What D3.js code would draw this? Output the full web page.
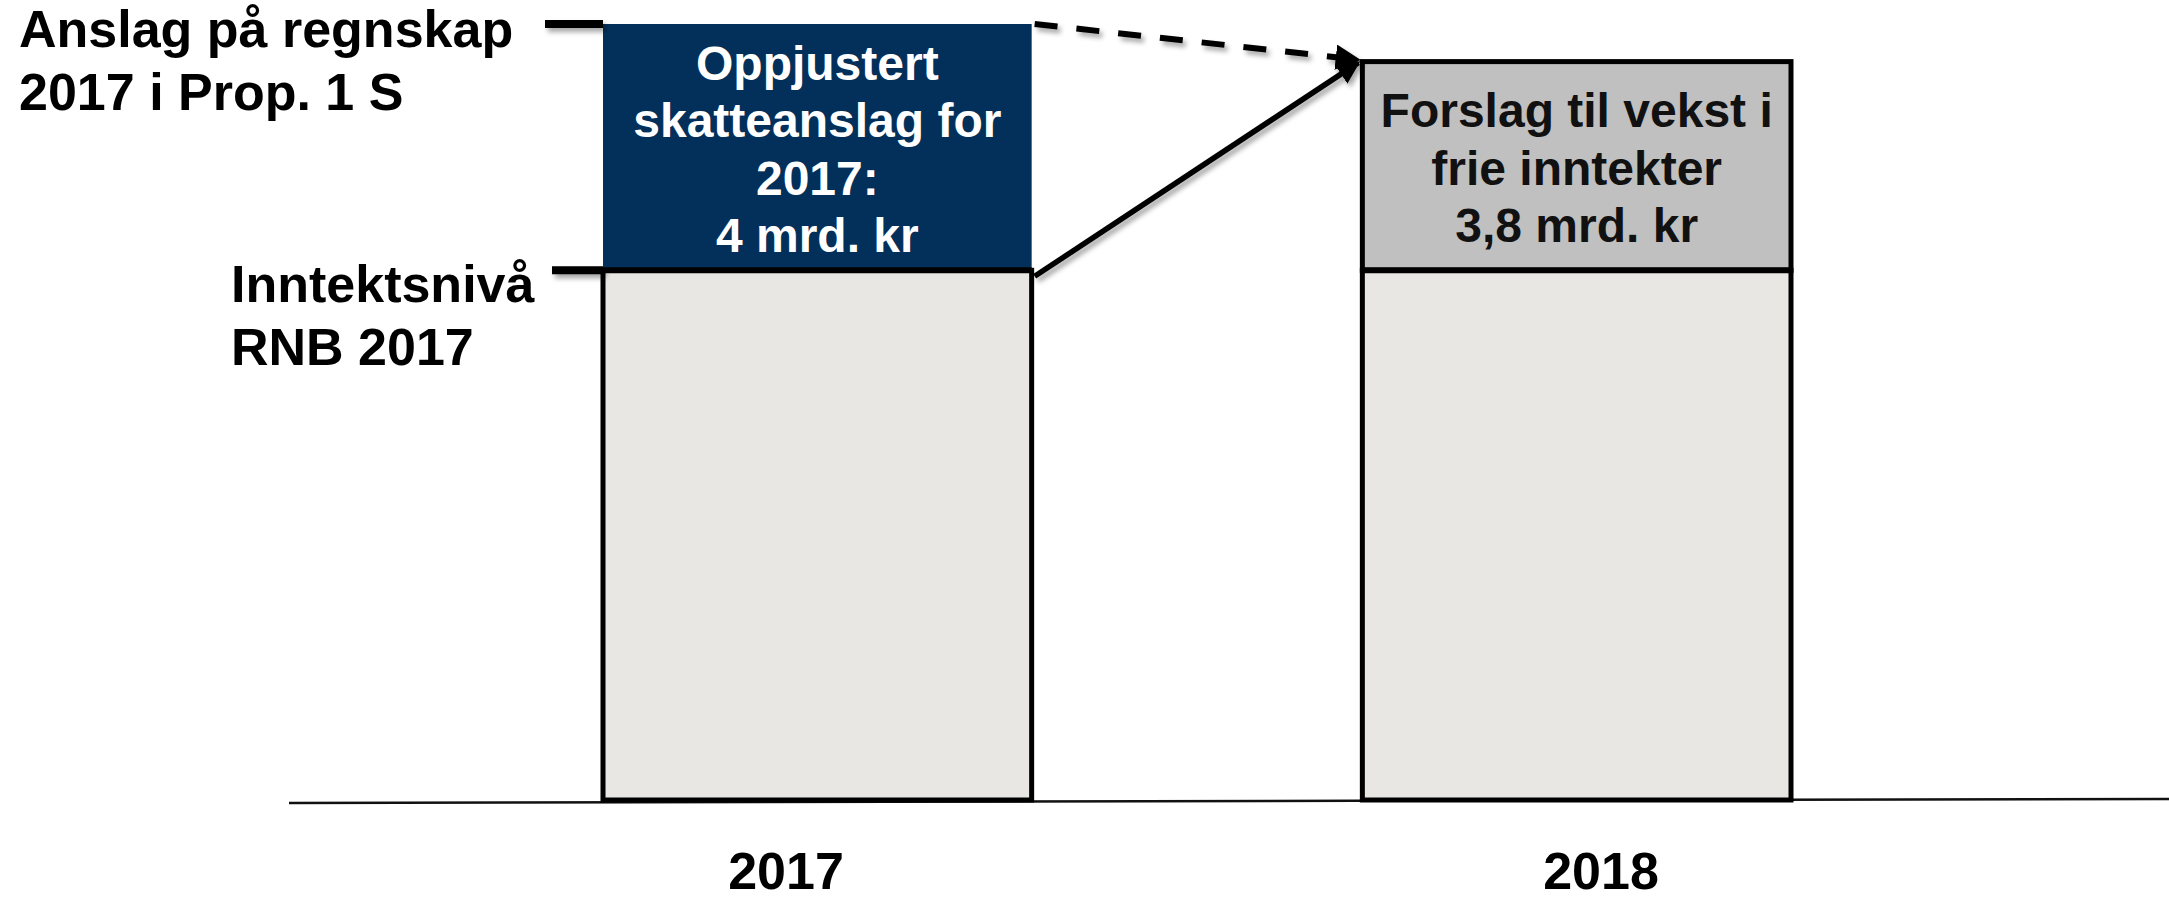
<!DOCTYPE html>
<html>
<head>
<meta charset="utf-8">
<script src="https://cdn.jsdelivr.net/npm/d3@7/dist/d3.min.js"></script>
<style>
  html, body { margin: 0; padding: 0; background: #fff; }
  svg { display: block; font-family: "Liberation Sans", Arial, sans-serif; font-weight: bold; }
</style>
</head>
<body>
<div id="chart"></div>
<script>
// categories and values (schematic, base level = 100)
var years = ["2017", "2018"]
var baseLevel = [100, 100]
var topValue = [46.5, 39.4]
var topFill = ["#03305a", "#c0c0c0"]
var topColor = ["#ffffff", "#111111"]
var topText = [
  ["Oppjustert", "skatteanslag for", "2017:", "4 mrd. kr"],
  ["Forslag til vekst i", "frie inntekter", "3,8 mrd. kr"]
]
var leftLabels = [
  { lines: ["Anslag på regnskap", "2017 i Prop. 1 S"] },
  { lines: ["Inntektsnivå", "RNB 2017"] }
]

var width = 2169, height = 900

var svg = d3.select("#chart").append("svg")
  .attr("width", width)
  .attr("height", height)

var defs = svg.append("defs")
// user space units so horizontal lines (zero-height bbox) still render
defs.append("filter").attr("id", "shadow")
  .attr("filterUnits", "userSpaceOnUse")
  .attr("x", 0).attr("y", 0).attr("width", width).attr("height", height)
  .append("feDropShadow")
  .attr("dx", 3).attr("dy", 4).attr("stdDeviation", 2.5)
  .attr("flood-color", "#000").attr("flood-opacity", 0.35)
defs.append("marker").attr("id", "head")
  .attr("viewBox", "0 0 10 10")
  .attr("refX", 9).attr("refY", 5)
  .attr("markerWidth", 4.2).attr("markerHeight", 4.2)
  .attr("markerUnits", "strokeWidth")
  .attr("orient", "auto")
  .append("path").attr("d", "M0,0 L10,5 L0,10 Z").attr("fill", "#000")

var x = d3.scaleBand().domain(years).range([603, 1791]).paddingInner(0.4355).paddingOuter(0)
var y = d3.scaleLinear().domain([0, 146.5]).range([800, 24])
var xLabel = d3.scalePoint().domain(years).range([786, 1601])

var data = years.map(function(d, i) {
  return { year: d, base: baseLevel[i], top: topValue[i], fill: topFill[i], color: topColor[i], text: topText[i] }
})

// baseline
svg.append("line")
  .attr("x1", 289).attr("y1", 803)
  .attr("x2", width).attr("y2", 799)
  .attr("stroke", "#111").attr("stroke-width", 2.5)

var bars = svg.selectAll(".bar").data(data).enter().append("g").attr("class", "bar")

bars.append("rect")
  .attr("x", function(d) { return x(d.year) })
  .attr("y", function(d) { return y(d.base) })
  .attr("width", x.bandwidth())
  .attr("height", function(d) { return y(0) - y(d.base) })
  .attr("fill", "#e8e7e3")
  .attr("stroke", "#000").attr("stroke-width", 5)

bars.append("rect")
  .attr("x", function(d) { return x(d.year) })
  .attr("y", function(d) { return y(d.base + d.top) })
  .attr("width", x.bandwidth())
  .attr("height", function(d) { return y(d.base) - y(d.base + d.top) })
  .attr("fill", function(d) { return d.fill })
  .attr("stroke", function(d, i) { return i == 0 ? "none" : "#000" })
  .attr("stroke-width", 5)

// line on top of the base segment
bars.append("line")
  .attr("x1", function(d) { return x(d.year) })
  .attr("x2", function(d) { return x(d.year) + x.bandwidth() })
  .attr("y1", function(d) { return y(d.base) })
  .attr("y2", function(d) { return y(d.base) })
  .attr("stroke", "#000").attr("stroke-width", 6)

// text inside the top segments
bars.each(function(d) {
  var g = d3.select(this)
  var cx = x(d.year) + x.bandwidth() / 2
  var cy = (y(d.base) + y(d.base + d.top)) / 2
  var n = d.text.length
  g.selectAll(".seg-label").data(d.text).enter().append("text")
    .attr("class", "seg-label")
    .attr("x", cx)
    .attr("y", function(t, i) { return cy + (i - (n - 1) / 2) * 57.5 + 19 })
    .attr("text-anchor", "middle")
    .attr("font-size", 48)
    .attr("fill", d.color)
    .text(function(t) { return t })
})

// leader lines to the left of the 2017 bar
var leaderY = [y(baseLevel[0] + topValue[0]), y(baseLevel[0])]
var leaderStart = [545, 552]
svg.selectAll(".leader").data(leaderY).enter().append("line")
  .attr("class", "leader")
  .attr("x1", function(d, i) { return leaderStart[i] })
  .attr("x2", x(years[0]))
  .attr("y1", function(d) { return d })
  .attr("y2", function(d) { return d })
  .attr("stroke", "#000").attr("stroke-width", 8)
  .attr("filter", "url(#shadow)")

// left labels
var labelPos = [{ x: 19, y: 47 }, { x: 231, y: 302 }]
leftLabels.forEach(function(l, i) {
  svg.append("text")
    .attr("x", labelPos[i].x)
    .attr("y", labelPos[i].y)
    .attr("font-size", 52)
    .attr("fill", "#000")
    .selectAll("tspan").data(l.lines).enter().append("tspan")
    .attr("x", labelPos[i].x)
    .attr("dy", function(t, j) { return j == 0 ? 0 : 63 })
    .text(function(t) { return t })
})

// arrows from 2017 to 2018
var x0 = x(years[0]) + x.bandwidth()
var x1 = x(years[1])
var topY2018 = y(baseLevel[1] + topValue[1])

svg.append("line")
  .attr("x1", x0 + 3).attr("y1", y(baseLevel[0] + topValue[0]))
  .attr("x2", x1 - 4).attr("y2", topY2018 - 2)
  .attr("stroke", "#000").attr("stroke-width", 6)
  .attr("stroke-dasharray", "23,19")
  .attr("marker-end", "url(#head)")
  .attr("filter", "url(#shadow)")

svg.append("line")
  .attr("x1", x0 + 3).attr("y1", y(baseLevel[0]) + 6)
  .attr("x2", x1 - 4).attr("y2", topY2018 + 1)
  .attr("stroke", "#000").attr("stroke-width", 5.5)
  .attr("marker-end", "url(#head)")
  .attr("filter", "url(#shadow)")

// year labels
svg.selectAll(".year").data(years).enter().append("text")
  .attr("class", "year")
  .attr("x", function(d) { return xLabel(d) })
  .attr("y", 889)
  .attr("text-anchor", "middle")
  .attr("font-size", 52)
  .attr("fill", "#000")
  .text(function(d) { return d })
</script>
</body>
</html>
